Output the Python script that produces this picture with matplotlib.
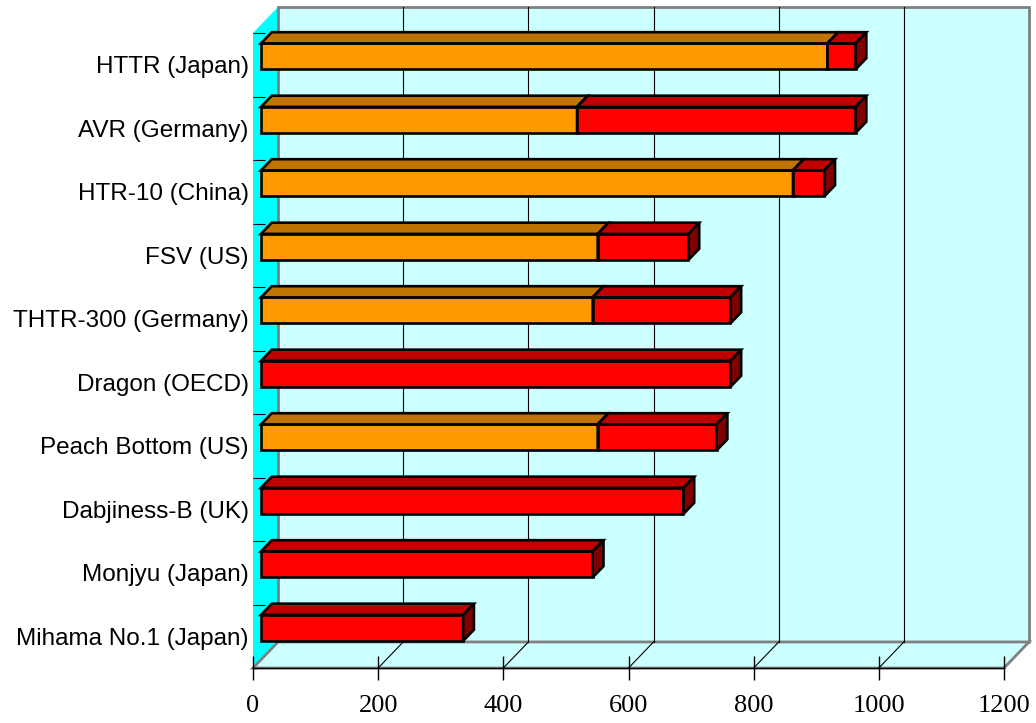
import numpy as np
import matplotlib.pyplot as plt
from matplotlib.patches import Polygon

# categories, bottom to top
reactors = [
    "Mihama No.1 (Japan)",
    "Monjyu (Japan)",
    "Dabjiness-B (UK)",
    "Peach Bottom (US)",
    "Dragon (OECD)",
    "THTR-300 (Germany)",
    "FSV (US)",
    "HTR-10 (China)",
    "AVR (Germany)",
    "HTTR (Japan)",
]
orange_vals = [0, 0, 0, 538, 0, 530, 538, 850, 505, 905]
red_vals = [323, 530, 675, 190, 750, 220, 145, 50, 445, 45]
x_ticks = [0, 200, 400, 600, 800, 1000, 1200]

# oblique 3d look
DX, DY = 40.0, 0.41  # full depth, in data units
D0, D1 = 0.32, 0.75  # bar front / back depth fraction
HALF = 0.205  # half bar height
XMAX = 1200
YLO, YHI = -0.5, len(reactors) - 0.5


def proj(v, y, d):
    return (v + d * DX, y + d * DY)


def face(ax, pts, fc, ec="black", lw=1.9, z=3):
    ax.add_patch(Polygon(pts, closed=True, facecolor=fc, edgecolor=ec,
                         linewidth=lw, joinstyle="miter", clip_on=False, zorder=z))


def bar_segment(ax, y, a, b, front, top, side):
    if b <= a:
        return
    face(ax, [proj(a, y - HALF, D0), proj(b, y - HALF, D0),
              proj(b, y + HALF, D0), proj(a, y + HALF, D0)], front)
    face(ax, [proj(a, y + HALF, D0), proj(b, y + HALF, D0),
              proj(b, y + HALF, D1), proj(a, y + HALF, D1)], top)
    face(ax, [proj(b, y - HALF, D0), proj(b, y - HALF, D1),
              proj(b, y + HALF, D1), proj(b, y + HALF, D0)], side)


fig = plt.figure(figsize=(10.36, 7.23), dpi=100)
ax = fig.add_axes([253 / 1036, 55 / 723, 751 / 1036, 635 / 723])
ax.set_xlim(0, XMAX)
ax.set_ylim(YLO, YHI)
ax.patch.set_visible(False)

# walls and floor
face(ax, [proj(0, YLO, 0), proj(0, YLO, 1), proj(0, YHI, 1), proj(0, YHI, 0)],
     "#00FFFF", ec="none", lw=0, z=0.5)
face(ax, [proj(0, YLO, 1), proj(XMAX, YLO, 1), proj(XMAX, YHI, 1), proj(0, YHI, 1)],
     "#CCFFFF", ec="#808080", lw=2, z=0.6)
face(ax, [proj(0, YLO, 0), proj(XMAX, YLO, 0), proj(XMAX, YLO, 1), proj(0, YLO, 1)],
     "#CCFFFF", ec="#808080", lw=2, z=0.7)

for v in x_ticks[1:-1]:
    xs, ys = zip(proj(v, YLO, 1), proj(v, YHI, 1))
    ax.plot(xs, ys, color="black", lw=0.8, zorder=0.8, clip_on=False)
    xs, ys = zip(proj(v, YLO, 0), proj(v, YLO, 1))
    ax.plot(xs, ys, color="black", lw=0.8, zorder=0.8, clip_on=False)

for i in range(len(reactors)):
    o = orange_vals[i]
    r = red_vals[i]
    bar_segment(ax, i, 0, o, "#FF9900", "#C07300", "#996000")
    bar_segment(ax, i, o, o + r, "#FF0000", "#C00000", "#800000")

for s in ["top", "right", "left"]:
    ax.spines[s].set_visible(False)
ax.spines["bottom"].set_color("black")
ax.spines["bottom"].set_linewidth(1.0)

ax.set_xticks(x_ticks)
ax.set_xticklabels([str(t) for t in x_ticks], fontfamily="Liberation Serif", fontsize=19)
ax.tick_params(axis="x", direction="inout", length=17, width=1, pad=11)

ax.set_yticks(range(len(reactors)))
ax.set_yticklabels(reactors, fontfamily="Liberation Sans", fontsize=17.5)
ax.tick_params(axis="y", which="major", length=0, pad=3)
ax.set_yticks(np.arange(YLO, YHI + 0.1, 1), minor=True)
ax.tick_params(axis="y", which="minor", direction="in", length=8.6, width=0.8)

fig.savefig("out.png", dpi=100)
